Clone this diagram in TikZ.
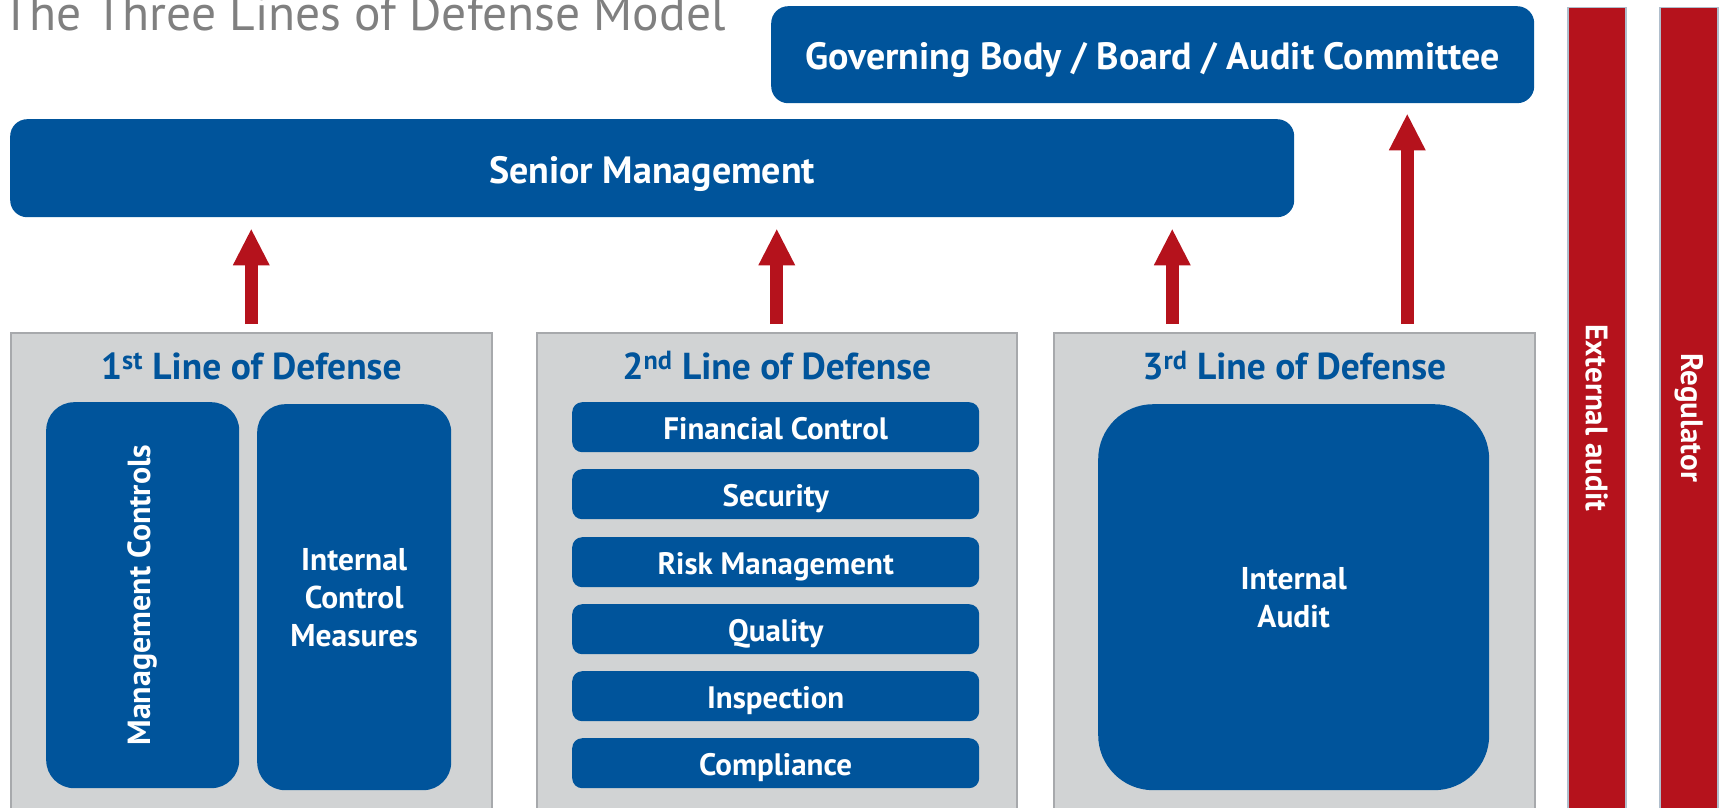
\documentclass[tikz,border=0pt]{standalone}
\usepackage{fontspec}
\setmainfont{PT Sans}
\usepackage{graphicx}
\usetikzlibrary{arrows.meta,positioning,calc}
\definecolor{lodblue}{RGB}{0,84,155}
\definecolor{lodred}{RGB}{181,18,28}
\definecolor{lodgray}{RGB}{209,211,212}
\definecolor{lodedge}{RGB}{167,169,172}
\definecolor{baredge}{RGB}{176,190,204}
\definecolor{titlegray}{RGB}{128,128,128}

\begin{document}
\begin{tikzpicture}[
    x=1pt, y=-1pt,
    topbox/.style={rectangle, fill=lodblue, text=white, rounded corners=17pt, anchor=north west, inner sep=0pt, text height=30.6pt, text depth=0pt, font=\fontsize{38}{44}\selectfont\bfseries},
    linebox/.style={rectangle, fill=lodgray, draw=lodedge, line width=1.5pt, anchor=north west, minimum height=520pt},
    linetitle/.style={text=lodblue, anchor=base, font=\fontsize{37.5}{40}\selectfont\bfseries},
    itembox/.style={rectangle, fill=lodblue, text=white, rounded corners=10pt, anchor=north west, minimum width=407pt, minimum height=50pt, inner sep=0pt, text height=23.7pt, text depth=0pt, font=\fontsize{31}{36}\selectfont\bfseries},
    bigbox/.style={rectangle, fill=lodblue, text=white, anchor=north west, inner sep=0pt, minimum height=386pt, align=center, font=\fontsize{31.5}{38}\selectfont\bfseries},
    redbar/.style={rectangle, fill=lodred, draw=baredge, line width=1.5pt, anchor=north west, minimum width=58pt, minimum height=820pt, inner sep=0pt, text=white, font=\fontsize{31}{36}\selectfont\bfseries},
    arrow/.style={line width=13pt, lodred, -{Triangle[width=37pt, length=36pt, line width=0pt]}}
]
\useasboundingbox (0,0) rectangle (1721,808);
\clip (0,0) rectangle (1721,808);

% Title (cut at the top)
\node[anchor=base west, inner sep=0pt, text=titlegray, font=\fontsize{49.5}{52}\selectfont] (title) at (2,31) {The Three Lines of Defense Model};

% Top level
\node[topbox, minimum width=763pt, minimum height=97pt] (gov) at (771,6) {Governing Body / Board / Audit Committee};
\node[topbox, minimum width=1284pt, minimum height=98pt] (sm) at (10,119) {Senior Management};

% The three lines
\node[linebox, minimum width=481pt] (l1) at (10,332) {};
\node[linebox, minimum width=480pt] (l2) at (536,332) {};
\node[linebox, minimum width=481pt] (l3) at (1053,332) {};

\node[linetitle] (t1) at ($(l1.north)+(0,47)$) {1\textsuperscript{st} Line of Defense};
\node[linetitle] (t2) at ($(l2.north)+(0,47)$) {2\textsuperscript{nd} Line of Defense};
\node[linetitle] (t3) at ($(l3.north)+(0,47)$) {3\textsuperscript{rd} Line of Defense};

% 1st line
\node[bigbox, rounded corners=28pt, minimum width=193pt] (mc) at (46,402) {\rotatebox{90}{\fontsize{32}{36}\selectfont Management Controls}};
\node[bigbox, rounded corners=28pt, minimum width=194pt, yshift=-2pt] (icm) at (257,402) {Internal\\Control\\Measures};

% 2nd line
\node[itembox] (fc) at (572,402) {Financial Control};
\node[itembox] (sec) at (572,469) {Security};
\node[itembox] (rm) at (572,537) {Risk Management};
\node[itembox] (qual) at (572,604) {Quality};
\node[itembox] (insp) at (572,671) {Inspection};
\node[itembox] (comp) at (572,738) {Compliance};

% 3rd line
\node[bigbox, rounded corners=55pt, minimum width=391pt, yshift=-2pt] (ia) at (1098,402) {Internal\\Audit};

% Outside parties
\node[redbar] (ext) at (1567,7) {\rotatebox{-90}{External audit}};
\node[redbar] (reg) at (1659,7) {\rotatebox{-90}{Regulator}};

% Reporting arrows
\draw[arrow, shorten <=8pt, shorten >=12pt] (l1.north) -- (l1.north |- sm.south);
\draw[arrow, shorten <=8pt, shorten >=12pt] (l2.north) -- (l2.north |- sm.south);
\draw[arrow, shorten <=8pt, shorten >=12pt] ([xshift=-122pt]l3.north) -- ([xshift=-122pt]l3.north |- sm.south);
\draw[arrow, shorten <=8pt, shorten >=11pt] ([xshift=113pt]l3.north) -- ([xshift=113pt]l3.north |- gov.south);

\end{tikzpicture}
\end{document}
